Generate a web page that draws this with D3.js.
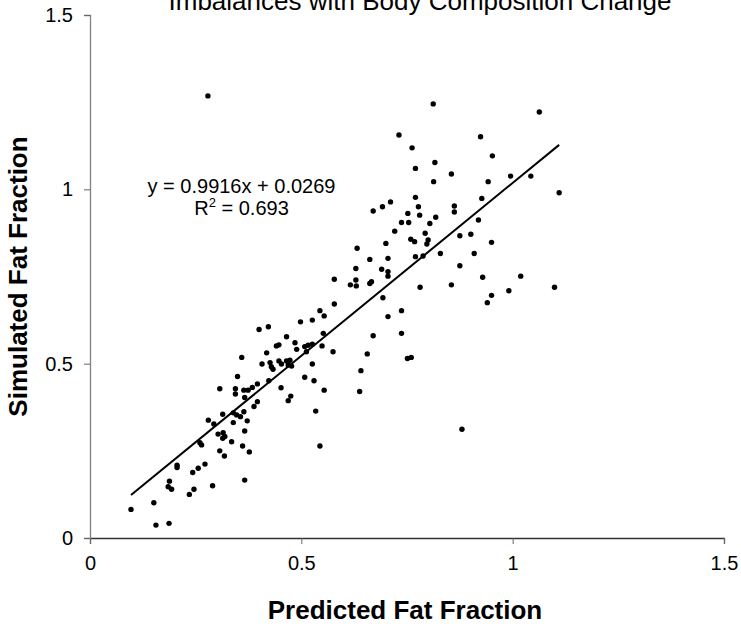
<!DOCTYPE html>
<html>
<head>
<meta charset="utf-8">
<script src="https://cdn.jsdelivr.net/npm/d3@7"></script>
<style>
  body { margin: 0; background: #fff; }
  text { font-family: Arial, "Liberation Sans", sans-serif; }
</style>
</head>
<body>
<div id="chart"></div>
<script>
const predicted = [
  0.279, 0.812, 1.063,
  0.731, 0.762, 0.770, 0.670, 0.692, 0.711, 0.770, 0.777, 0.752, 0.737, 0.754, 0.721, 0.780,
  0.700, 0.759, 0.768, 0.632, 0.662, 0.705, 0.770, 0.629, 0.690, 0.705, 0.705, 0.578, 0.616,
  0.629, 0.630, 0.662, 0.666, 0.781, 0.693, 0.578, 0.544, 0.737,
  0.924, 0.952, 0.816, 0.855, 0.813, 0.942, 0.995, 1.043, 1.110, 0.927, 0.862, 0.862, 0.818,
  0.804, 0.919, 0.793, 0.800, 0.797, 0.875, 0.901, 0.950, 0.788, 0.829, 0.909, 0.875, 0.929,
  1.019, 0.855, 1.099, 0.991, 0.950, 0.940,
  0.359, 0.349, 0.307, 0.344, 0.344, 0.364, 0.374, 0.384, 0.366, 0.388, 0.280, 0.293, 0.314,
  0.339, 0.347, 0.356, 0.364, 0.372, 0.339, 0.303, 0.315, 0.319, 0.314, 0.366, 0.335, 0.260,
  0.264, 0.361, 0.377, 0.307, 0.318, 0.206, 0.206, 0.272, 0.256, 0.243, 0.188, 0.185, 0.193,
  0.246, 0.235, 0.290, 0.366, 0.151, 0.097, 0.156, 0.187,
  0.400, 0.422, 0.498, 0.526, 0.554, 0.552, 0.485, 0.465, 0.441, 0.447, 0.418, 0.489, 0.508,
  0.516, 0.526, 0.512, 0.549, 0.575, 0.407, 0.426, 0.429, 0.433, 0.447, 0.453, 0.465, 0.473,
  0.469, 0.477, 0.526, 0.396, 0.423, 0.508, 0.530, 0.452, 0.554, 0.396, 0.475, 0.469, 0.534,
  0.544, 0.641, 0.638, 0.656, 0.670, 0.737, 0.705, 0.751, 0.760,
  0.880
];
const simulated = [
  1.268, 1.245, 1.222,
  1.156, 1.119, 1.060, 0.938, 0.950, 0.964, 0.977, 0.950, 0.931, 0.905, 0.905, 0.880, 0.926,
  0.845, 0.857, 0.850, 0.831, 0.799, 0.802, 0.807, 0.773, 0.771, 0.764, 0.751, 0.742, 0.726,
  0.740, 0.723, 0.730, 0.735, 0.719, 0.689, 0.671, 0.652, 0.652,
  1.151, 1.096, 1.077, 1.044, 1.022, 1.022, 1.038, 1.038, 0.990, 0.974, 0.952, 0.935, 0.920,
  0.902, 0.912, 0.874, 0.855, 0.843, 0.867, 0.871, 0.848, 0.809, 0.816, 0.816, 0.781, 0.748,
  0.751, 0.726, 0.719, 0.709, 0.696, 0.675,
  0.518, 0.463, 0.428, 0.428, 0.413, 0.424, 0.424, 0.432, 0.403, 0.377, 0.338, 0.327, 0.355,
  0.359, 0.353, 0.348, 0.362, 0.336, 0.331, 0.298, 0.302, 0.291, 0.286, 0.307, 0.276, 0.273,
  0.267, 0.264, 0.247, 0.250, 0.235, 0.209, 0.202, 0.212, 0.200, 0.188, 0.163, 0.147, 0.140,
  0.140, 0.125, 0.150, 0.166, 0.101, 0.082, 0.037, 0.042,
  0.598, 0.606, 0.620, 0.625, 0.637, 0.587, 0.560, 0.577, 0.551, 0.554, 0.531, 0.541, 0.549,
  0.553, 0.556, 0.534, 0.551, 0.534, 0.499, 0.503, 0.491, 0.484, 0.508, 0.499, 0.508, 0.510,
  0.496, 0.493, 0.499, 0.442, 0.451, 0.461, 0.451, 0.431, 0.424, 0.391, 0.407, 0.394, 0.364,
  0.264, 0.480, 0.420, 0.528, 0.580, 0.587, 0.635, 0.515, 0.518,
  0.312
];
const slope = 0.9916;
const intercept = 0.0269;
const rSquared = 0.693;
const xTicks = [0, 0.5, 1, 1.5];
const yTicks = [0, 0.5, 1, 1.5];

const width = 741, height = 624;
const plotLeft = 90, plotRight = 724, plotTop = 15, plotBottom = 538;

const svg = d3.select("#chart").append("svg")
  .attr("width", width)
  .attr("height", height);

const x = d3.scaleLinear().domain([0, 1.5]).range([plotLeft, plotRight]);
const y = d3.scaleLinear().domain([0, 1.5]).range([plotBottom, plotTop]);

// axes
const xAxis = svg.append("g")
  .attr("transform", `translate(0,${plotBottom})`)
  .call(d3.axisBottom(x).tickValues(xTicks).tickFormat(d3.format("")).tickSize(6).tickPadding(12));
xAxis.select(".domain").attr("stroke", "#333").attr("stroke-width", 1.3);
xAxis.selectAll(".tick line").attr("stroke", "#666");
xAxis.selectAll(".tick text").attr("font-size", "20px").attr("fill", "#000")
  .attr("font-family", "Arial, 'Liberation Sans', sans-serif");

const yAxis = svg.append("g")
  .attr("transform", `translate(${plotLeft},0)`)
  .call(d3.axisLeft(y).tickValues(yTicks).tickFormat(d3.format("")).tickSize(6).tickPadding(11));
yAxis.select(".domain").attr("stroke", "#808080").attr("stroke-width", 1.3);
yAxis.selectAll(".tick line").attr("stroke", "#666");
yAxis.selectAll(".tick text").attr("font-size", "20px").attr("fill", "#000")
  .attr("font-family", "Arial, 'Liberation Sans', sans-serif");

// trend line
const xMin = d3.min(predicted), xMax = d3.max(predicted);
svg.append("line")
  .attr("x1", x(xMin)).attr("y1", y(slope * xMin + intercept))
  .attr("x2", x(xMax)).attr("y2", y(slope * xMax + intercept))
  .attr("stroke", "#000")
  .attr("stroke-width", 2);

// points
svg.append("g")
  .selectAll("circle")
  .data(predicted.map((d, i) => [d, simulated[i]]))
  .join("circle")
  .attr("cx", d => x(d[0]))
  .attr("cy", d => y(d[1]))
  .attr("r", 2.7)
  .attr("fill", "#000");

// equation
svg.append("text")
  .attr("x", 241.5)
  .attr("y", 193)
  .attr("text-anchor", "middle")
  .attr("font-size", "20px")
  .text(`y = ${slope}x + ${intercept}`);

const r2 = svg.append("text")
  .attr("x", 241.5)
  .attr("y", 215)
  .attr("text-anchor", "middle")
  .attr("font-size", "20px");
r2.append("tspan").text("R");
r2.append("tspan").attr("dy", -8).attr("font-size", "13px").text("2");
r2.append("tspan").attr("dy", 8).text(` = ${rSquared}`);

// title (partly cut at the top)
svg.append("text")
  .attr("x", 420)
  .attr("y", 10)
  .attr("text-anchor", "middle")
  .attr("font-size", "26px")
  .text("Imbalances with Body Composition Change");

// axis titles
svg.append("text")
  .attr("x", 405)
  .attr("y", 619)
  .attr("text-anchor", "middle")
  .attr("font-size", "26px")
  .attr("font-weight", "bold")
  .text("Predicted Fat Fraction");

svg.append("text")
  .attr("transform", `translate(27,${(plotTop + plotBottom) / 2}) rotate(-90)`)
  .attr("text-anchor", "middle")
  .attr("font-size", "26px")
  .attr("font-weight", "bold")
  .text("Simulated Fat Fraction");
</script>
</body>
</html>
